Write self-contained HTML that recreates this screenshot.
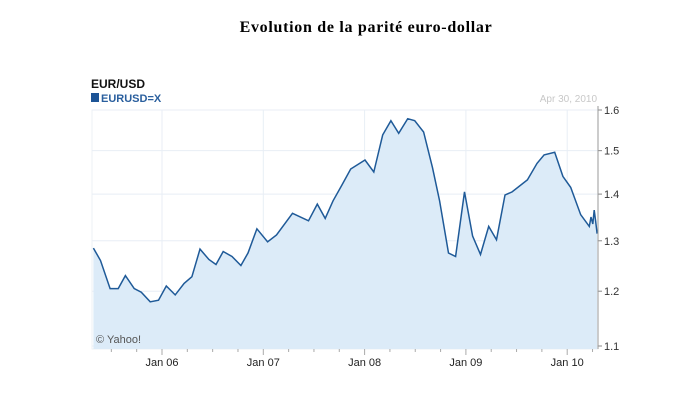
<!DOCTYPE html>
<html><head><meta charset="utf-8"><style>
body{margin:0;background:#fff;}
svg{display:block;font-family:"Liberation Sans",Arial,sans-serif;}
</style></head><body>
<svg id="c" width="697" height="419">
<text x="366" y="32" text-anchor="middle" font-family="Liberation Serif,serif" font-weight="bold" font-size="16" letter-spacing="0.7" fill="#000">Evolution de la parité euro-dollar</text>
<text x="91" y="88" font-weight="bold" font-size="12" fill="#111">EUR/USD</text>
<rect x="91" y="93" width="8" height="9" fill="#1d5496"/>
<text x="101" y="102" font-weight="bold" font-size="11" fill="#2a5f9e">EURUSD=X</text>
<text x="597" y="102" text-anchor="end" font-size="10" fill="#c8c8c8">Apr 30, 2010</text>
<g id="grid"></g>
<g id="area"></g>
<g id="axes"></g>
<text x="96" y="343" font-size="11" fill="#555">© Yahoo!</text>
</svg>
<script>
const dates=[2005.323,2005.393,2005.488,2005.568,2005.639,2005.726,2005.796,2005.884,2005.965,2006.042,2006.130,2006.218,2006.295,2006.375,2006.463,2006.533,2006.604,2006.691,2006.779,2006.849,2006.937,2007.042,2007.130,2007.288,2007.446,2007.533,2007.611,2007.688,2007.775,2007.863,2008.004,2008.091,2008.179,2008.260,2008.337,2008.425,2008.495,2008.582,2008.670,2008.740,2008.828,2008.898,2008.986,2009.066,2009.144,2009.225,2009.302,2009.386,2009.456,2009.607,2009.702,2009.772,2009.877,2009.958,2010.035,2010.133,2010.218,2010.235,2010.253,2010.267,2010.281,2010.295];
const values=[1.285,1.26,1.205,1.205,1.23,1.205,1.198,1.18,1.183,1.21,1.193,1.215,1.228,1.283,1.262,1.252,1.278,1.268,1.25,1.275,1.325,1.298,1.312,1.358,1.342,1.378,1.347,1.385,1.42,1.457,1.478,1.45,1.538,1.573,1.542,1.578,1.573,1.545,1.46,1.385,1.275,1.268,1.405,1.31,1.272,1.33,1.302,1.398,1.405,1.432,1.47,1.49,1.496,1.44,1.415,1.355,1.33,1.35,1.335,1.365,1.34,1.315];
const yTicks=[1.1,1.2,1.3,1.4,1.5,1.6];
const xTickYears=[2006,2007,2008,2009,2010];
const xTickLabels=["Jan 06","Jan 07","Jan 08","Jan 09","Jan 10"];
const L=92,R=598,T=110,B=346;
const X=t=>162+(t-2006)*101.3;
const Y=v=>B-(Math.log(v)-Math.log(1.1))/(Math.log(1.6)-Math.log(1.1))*(B-T);
const NS="http://www.w3.org/2000/svg";
function mk(tag,attrs,parent){const e=document.createElementNS(NS,tag);for(const k in attrs)e.setAttribute(k,attrs[k]);parent.appendChild(e);return e;}
const grid=document.getElementById('grid'),area=document.getElementById('area'),axes=document.getElementById('axes');
const bg=mk('rect',{x:L,y:T,width:R-L,height:B+3-T,fill:'#fff',stroke:'#eef2f6'},grid);


yTicks.forEach(v=>{
  const l=mk('line',{x1:L,x2:R,y1:Y(v),y2:Y(v),stroke:'#e8eef5'},grid);
  
  
  const tk=mk('line',{x1:R,x2:R+4,y1:Y(v),y2:Y(v),stroke:'#888'},axes);
  
  
  const t=mk('text',{x:R+6,y:Y(v)+4,'font-size':11,fill:'#333'},axes);
  t.textContent=v.toFixed(1);
  
  
});
xTickYears.forEach((yr,i)=>{
  const l=mk('line',{x1:X(yr),x2:X(yr),y1:T,y2:B+3,stroke:'#e8eef5'},grid);
  
  
  const t=mk('text',{x:X(yr),y:366,'text-anchor':'middle','font-size':11,fill:'#222'},axes);
  t.textContent=xTickLabels[i];
  
  
});
for(let q=2005.25;q<2010.4;q+=0.25){
  const x=X(q); if(x<L||x>R)continue;
  const major=Math.abs(q-Math.round(q))<0.01;
  const tk=mk('line',{x1:x,x2:x,y1:B+3,y2:B+(major?9:6),stroke:'#aaa'},axes);
  
  
}
const vAx=mk('line',{x1:R,x2:R,y1:T-4,y2:B+3,stroke:'#999'},axes);


let pts=dates.map((d,i)=>X(d).toFixed(1)+','+Y(values[i]).toFixed(1));
const fill=mk('polygon',{points:X(dates[0])+','+(B+3)+' '+pts.join(' ')+' '+X(dates[dates.length-1])+','+(B+3),fill:'#dcebf8'},area);


const line=mk('polyline',{points:pts.join(' '),fill:'none',stroke:'#1f5a98','stroke-width':1.5},area);


</script>
</body></html>
